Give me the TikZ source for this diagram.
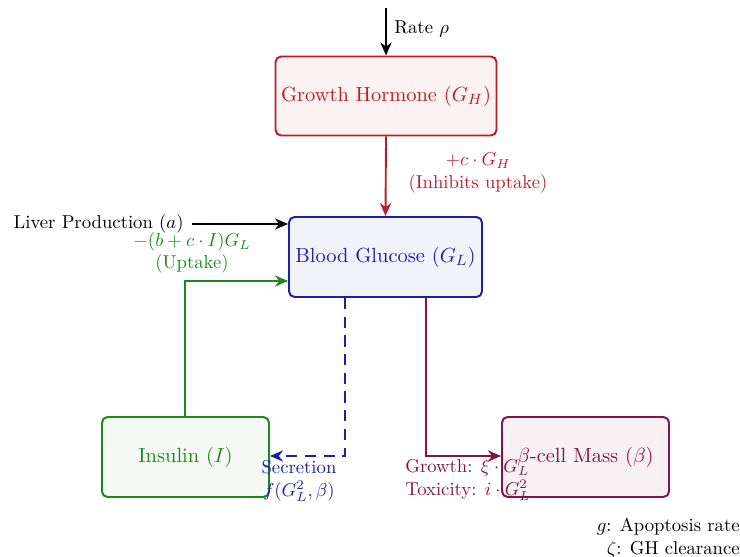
\documentclass[tikz,border=0pt]{standalone}
\usetikzlibrary{arrows.meta}
\definecolor{ghred}{RGB}{185,30,40}
\definecolor{bgblue}{RGB}{30,30,170}
\definecolor{ingreen}{RGB}{30,135,30}
\definecolor{bcmaroon}{RGB}{130,20,70}
\begin{document}
\begin{tikzpicture}[x=0.535pt,y=-0.535pt,
  box/.style={draw,rounded corners=3pt,line width=1.05pt,align=center,inner sep=0pt,font=\fontsize{10.95}{13.6}\selectfont},
  arr/.style={-{Stealth[length=7pt,width=6pt]},line width=1pt},
  lbl/.style={align=center,inner sep=0pt}]
\useasboundingbox (0,0) rectangle (740,557);
\node[box,draw=ghred,fill=ghred!6,text=ghred,minimum width=221*0.535pt,minimum height=79*0.535pt] (gh) at (386,96) {Growth Hormone ($G_H$)};
\node[box,draw=bgblue,fill=bgblue!6,text=bgblue,minimum width=193*0.535pt,minimum height=80*0.535pt] (bg) at (385.5,257) {Blood Glucose ($G_L$)};
\node[box,draw=ingreen,fill=ingreen!5,text=ingreen,minimum width=167*0.535pt,minimum height=80*0.535pt] (ins) at (185.5,457) {Insulin ($I$)};
\node[box,draw=bcmaroon,fill=bcmaroon!6,text=bcmaroon,minimum width=167*0.535pt,minimum height=80*0.535pt] (bc) at (585.5,457) {$\beta$-cell Mass ($\beta$)};
% rate
\coordinate (rtop) at (386,8);
\draw[arr] (rtop) -- (gh.north);
\node[lbl,anchor=west] (rate) at (394,29) {Rate $\rho$};
% GH -> BG
\draw[arr,ghred] (gh.south) -- (bg.north);
\node[lbl,text=ghred] (ghl) at (478,173) {$+c\cdot G_H$\\(Inhibits uptake)};
% liver
\node[lbl,anchor=east] (liver) at (184,224) {Liver Production ($a$)};
\draw[arr] (192,224) -- (bg.west |- 0,224);
% insulin -> BG
\draw[arr,ingreen] (ins.north -| 185,0) -- (185,281) -- (bg.west |- 0,281);
\node[lbl,text=ingreen] (upl) at (192,253) {$-(b+c\cdot I)G_L$\\(Uptake)};
% BG -> insulin
\draw[arr,bgblue,dashed,dash pattern=on 6pt off 4pt] (bg.south -| 345,0) -- (345,456) -- (ins.east |- 0,456);
\node[lbl,text=bgblue] (sec) at (299,481) {Secretion\\$f(G_L^2,\beta)$};
% BG -> beta
\draw[arr,bcmaroon] (bg.south -| 426,0) -- (426,456) -- (bc.west |- 0,456);
\node[lbl,text=bcmaroon,align=left] (gro) at (468,480) {Growth: $\xi\cdot G_L$\\Toxicity: $i\cdot G_L^2$};
% legend
\node[lbl,anchor=east,align=right] (leg) at (740,538) {$g$: Apoptosis rate\\$\zeta$: GH clearance};
\end{tikzpicture}
\end{document}
